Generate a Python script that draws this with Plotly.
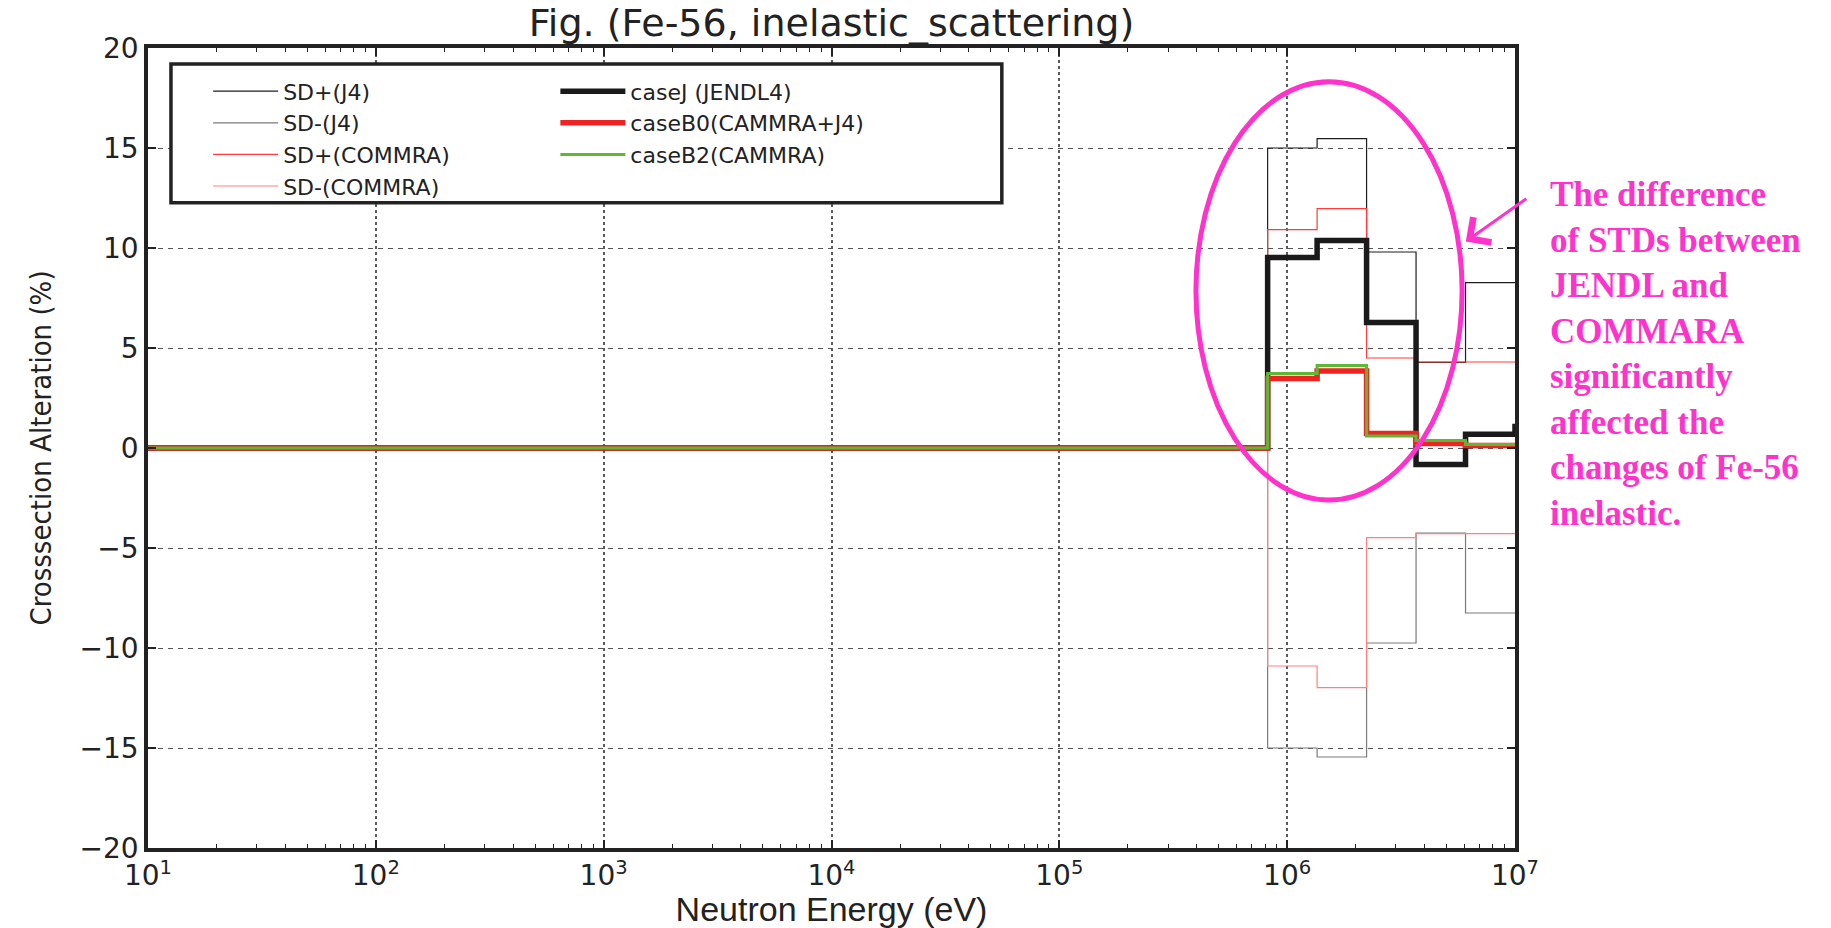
import plotly.graph_objects as go

# ---------------- data ----------------
# energy group boundaries (eV)
energy_bounds = [1.0e1, 8.2085e5, 1.3534e6, 2.2313e6, 3.6788e6, 6.0653e6, 1.0e7, 1.9640e7]

# per-group values (%), one per interval of energy_bounds
sd_plus_j4 = [0.0, 15.0, 15.47, 9.8, 4.28, 8.27, 8.27]
sd_minus_j4 = [0.0, -15.0, -15.45, -9.75, -4.25, -8.25, -8.25]
sd_plus_commra = [0.0, 10.92, 11.97, 4.5, 4.3, 4.3, 4.3]
sd_minus_commra = [0.0, -10.9, -11.98, -4.48, -4.28, -4.28, -4.28]
case_j = [0.0, 9.52, 10.38, 6.27, -0.82, 0.69, 1.08]
case_b0 = [0.0, 3.47, 3.85, 0.72, 0.22, 0.13, 0.13]
case_b2 = [0.0, 3.72, 4.13, 0.6, 0.38, 0.18, 0.18]

series_names = ["SD+(J4)", "SD-(J4)", "SD+(COMMRA)", "SD-(COMMRA)",
                "caseJ (JENDL4)", "caseB0(CAMMRA+J4)", "caseB2(CAMMRA)"]

x_tick_vals = [1e1, 1e2, 1e3, 1e4, 1e5, 1e6, 1e7]
x_tick_labels = ["10<sup>1</sup>", "10<sup>2</sup>", "10<sup>3</sup>", "10<sup>4</sup>",
                 "10<sup>5</sup>", "10<sup>6</sup>", "10<sup>7</sup>"]
y_tick_vals = [-20, -15, -10, -5, 0, 5, 10, 15, 20]
y_tick_labels = ["\u221220", "\u221215", "\u221210", "\u22125", "0", "5", "10", "15", "20"]

title_text = "Fig. (Fe-56, inelastic_scattering)"
note_lines = ["The difference", "of STDs between", "JENDL and", "COMMARA",
              "significantly", "affected the", "changes of Fe-56", "inelastic."]

# ---------------- figure ----------------
styles = [
    dict(color="#1e1e1e", width=1.2, legend="legend"),
    dict(color="#7a7a7a", width=1.2, legend="legend"),
    dict(color="#ff3b3b", width=1.2, legend="legend"),
    dict(color="#ff8080", width=1.2, legend="legend"),
    dict(color="#1a1a1a", width=5.5, legend="legend2"),
    dict(color="#ee2424", width=5.5, legend="legend2"),
    dict(color="#5db834", width=3, legend="legend2"),
]
all_series = [sd_plus_j4, sd_minus_j4, sd_plus_commra, sd_minus_commra, case_j, case_b0, case_b2]

fig = go.Figure()
for name, vals, st in zip(series_names, all_series, styles):
    fig.add_trace(go.Scatter(
        x=energy_bounds,
        y=list(vals) + [vals[-1]],
        mode="lines",
        line=dict(color=st["color"], width=st["width"], shape="hv"),
        name=name,
        legend=st["legend"],
    ))

minor_vals = [k * 10 ** n for n in range(1, 7) for k in range(2, 10)]

axis_font = dict(family="DejaVu Sans", size=28, color="#222222")
magenta = "#ff33cc"

fig.update_layout(
    width=1831, height=928, autosize=False,
    margin=dict(l=148, r=316, t=48, b=80),
    paper_bgcolor="white", plot_bgcolor="white",
    title=dict(text=title_text, x=0.5, xref="paper", xanchor="center",
               y=1 - 23 / 928, yref="container", yanchor="middle",
               font=dict(family="DejaVu Sans", size=38, color="#222222")),
    xaxis=dict(
        type="log", range=[1, 7], automargin=False,
        tickmode="array", tickvals=x_tick_vals, ticktext=x_tick_labels,
        tickfont=axis_font,
        ticks="inside", ticklen=8, tickwidth=1.5, tickcolor="#222222",
        showline=True, linewidth=3.5, linecolor="#222222", mirror="allticks",
        showgrid=True, gridcolor="#5a5a5a", gridwidth=1.6, griddash="dot",
        minor=dict(tickmode="array", tickvals=minor_vals, ticks="inside",
                   ticklen=4, tickwidth=1.2, tickcolor="#222222", showgrid=False),
        title=dict(text="Neutron Energy (eV)", standoff=14,
                   font=dict(family="Liberation Sans", size=34, color="#222222")),
        zeroline=False,
    ),
    yaxis=dict(
        range=[-20, 20], automargin=False,
        tickmode="array", tickvals=y_tick_vals, ticktext=y_tick_labels,
        tickfont=axis_font,
        ticks="inside", ticklen=8, tickwidth=1.5, tickcolor="#222222",
        showline=True, linewidth=3.5, linecolor="#222222", mirror="allticks",
        showgrid=True, gridcolor="#555555", gridwidth=1.3, griddash="5px,5px",
        title=dict(text="Crosssection Alteration (%)", standoff=20,
                   font=dict(family="Liberation Sans Narrow, DejaVu Sans Condensed, Liberation Sans",
                             size=29, color="#222222")),
        zeroline=False,
    ),
    legend=dict(x=0.044, xanchor="left", y=0.972, yanchor="top",
                bgcolor="rgba(0,0,0,0)", borderwidth=0,
                font=dict(family="DejaVu Sans", size=22, color="#222222"),
                itemwidth=65, traceorder="normal"),
    legend2=dict(x=0.298, xanchor="left", y=0.972, yanchor="top",
                 bgcolor="rgba(0,0,0,0)", borderwidth=0,
                 font=dict(family="DejaVu Sans", size=22, color="#222222"),
                 itemwidth=65, traceorder="normal"),
    showlegend=True,
)

# legend frame (white box with thick border)
fig.add_shape(type="rect", xref="paper", yref="paper",
              x0=0.0168, x1=0.6246, y0=0.8066, y1=0.98,
              line=dict(color="#222222", width=3.5), fillcolor="white", layer="above")

# magenta ellipse highlighting the MeV region
fig.add_shape(type="circle", xref="paper", yref="paper",
              x0=0.7666, x1=0.9613, y0=0.435, y1=0.9579,
              line=dict(color=magenta, width=5), layer="above")

# arrow
fig.add_annotation(xref="paper", yref="paper", x=0.964, y=0.758,
                   ax=62, ay=-44, text="", showarrow=True,
                   arrowhead=4, arrowsize=2.0, arrowwidth=3, arrowcolor=magenta)

# explanatory note
fig.add_annotation(xref="paper", yref="paper", x=1.024, y=0.617,
                   xanchor="left", yanchor="middle", align="left",
                   text="<br>".join("<b>" + s + "</b>" for s in note_lines),
                   showarrow=False,
                   font=dict(family="Liberation Serif", size=35, color=magenta))

fig.write_html("out.html", include_plotlyjs=True, full_html=True,
               config={"displayModeBar": False},
               post_script="document.body.style.margin='0';document.body.style.overflow='hidden';")
